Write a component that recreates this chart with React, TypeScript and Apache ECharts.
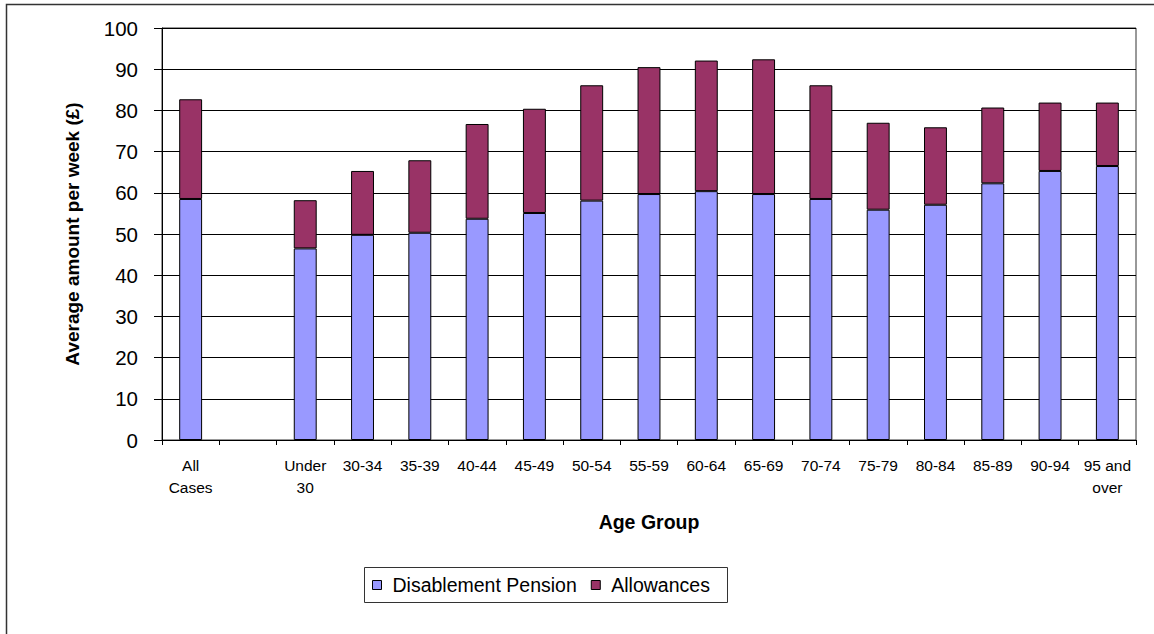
import React, { useEffect, useRef } from "react";
import * as echarts from "echarts";

const categories = [
  "All\nCases", "", "Under\n30", "30-34", "35-39", "40-44", "45-49", "50-54",
  "55-59", "60-64", "65-69", "70-74", "75-79", "80-84", "85-89", "90-94", "95 and\nover",
];
const pension = [58.5, null, 46.5, 49.8, 50.3, 53.7, 55.1, 58.1, 59.7, 60.4, 59.7, 58.5, 55.9, 57.1, 62.3, 65.3, 66.5];
const allowances = [24.2, null, 11.7, 15.5, 17.6, 23.0, 25.3, 28.0, 30.8, 31.7, 32.7, 27.6, 21.1, 18.8, 18.4, 16.6, 15.4];
const seriesNames = ["Disablement Pension", "Allowances"];
const yTicks = { min: 0, max: 100, interval: 10 };

const FONT = "'Liberation Sans', Arial, sans-serif";

export default function App() {
  const ref = useRef<HTMLDivElement>(null);
  useEffect(() => {
    if (!ref.current) return;
    const chart = echarts.init(ref.current, null, { renderer: "svg" });
    chart.setOption({
      animation: false,
      backgroundColor: "#fff",
      textStyle: { fontFamily: FONT, color: "#000" },
      grid: {
        left: 162, top: 28, width: 974, height: 412,
        show: true, borderColor: "#333", borderWidth: 1, backgroundColor: "transparent",
      },
      graphic: [
        {
          type: "rect",
          shape: { x: 6.5, y: 4.5, width: 1200, height: 700 },
          style: { fill: "none", stroke: "#333", lineWidth: 1.5 },
          silent: true,
        },
        {
          type: "rect",
          shape: { x: 364.5, y: 567.5, width: 363, height: 35 },
          style: { fill: "none", stroke: "#333", lineWidth: 1 },
          silent: true,
        },
      ],
      legend: {
        left: 372, top: 575, padding: 0,
        itemWidth: 9, itemHeight: 9, itemGap: 14, icon: "rect",
        itemStyle: { borderColor: "#000", borderWidth: 1 },
        textStyle: { fontFamily: FONT, fontSize: 19.5, color: "#000", padding: [0, 0, 0, 6] },
        data: seriesNames,
      },
      xAxis: {
        type: "category",
        data: categories,
        boundaryGap: true,
        name: "Age Group",
        nameLocation: "middle",
        nameGap: 72,
        nameTextStyle: { fontFamily: FONT, fontSize: 19.5, fontWeight: "bold", color: "#000" },
        axisLine: { lineStyle: { color: "#000", width: 1 } },
        axisTick: { show: true, length: 5, lineStyle: { color: "#000" }, alignWithLabel: false },
        axisLabel: {
          interval: 0, margin: 14, fontFamily: FONT, fontSize: 15.5, color: "#000", lineHeight: 22,
        },
      },
      yAxis: {
        type: "value",
        min: yTicks.min, max: yTicks.max, interval: yTicks.interval,
        name: "Average amount per week (£)",
        nameLocation: "middle",
        nameGap: 80,
        nameTextStyle: { fontFamily: FONT, fontSize: 19, fontWeight: "bold", color: "#000" },
        axisLine: { show: true, lineStyle: { color: "#000", width: 1 } },
        axisTick: { show: true, length: 8, lineStyle: { color: "#000" } },
        axisLabel: { margin: 24, fontFamily: FONT, fontSize: 20.5, color: "#000" },
        splitLine: { show: true, lineStyle: { color: "#000", width: 1 } },
      },
      series: [
        {
          name: seriesNames[0], type: "bar", stack: "total", data: pension, barWidth: "40%",
          itemStyle: { color: "#9999FF", borderColor: "#000", borderWidth: 1 },
        },
        {
          name: seriesNames[1], type: "bar", stack: "total", data: allowances, barWidth: "40%",
          itemStyle: { color: "#993366", borderColor: "#000", borderWidth: 1 },
        },
      ],
    });
    return () => chart.dispose();
  }, []);
  return (
    <div
      ref={ref}
      style={{ position: "absolute", left: 0, top: 0, width: 1154, height: 634 }}
    />
  );
}
